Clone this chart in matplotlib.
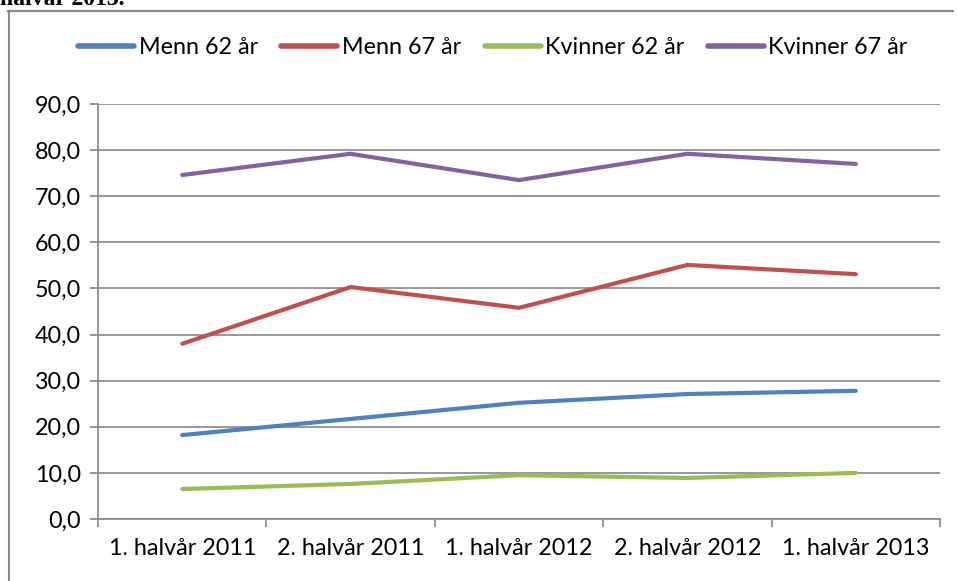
import matplotlib.pyplot as plt
from matplotlib.lines import Line2D

# Data
periods = ["1. halvår 2011", "2. halvår 2011", "1. halvår 2012", "2. halvår 2012", "1. halvår 2013"]
menn_62 = [18.2, 21.7, 25.2, 27.1, 27.8]
menn_67 = [38.0, 50.3, 45.8, 55.1, 53.1]
kvinner_62 = [6.5, 7.6, 9.5, 8.9, 10.0]
kvinner_67 = [74.6, 79.2, 73.5, 79.2, 77.0]

series = [
    ("Menn 62 år", menn_62, "#4F81BD"),
    ("Menn 67 år", menn_67, "#C0504D"),
    ("Kvinner 62 år", kvinner_62, "#9BBB59"),
    ("Kvinner 67 år", kvinner_67, "#8064A2"),
]

plt.rcParams["font.family"] = ["Lato", "DejaVu Sans"]
FS = 16.8

W, H = 957, 581
fig = plt.figure(figsize=(W / 100, H / 100), dpi=100)
ax = fig.add_axes([98 / W, (H - 519) / H, (940 - 98) / W, (519 - 104) / H])

x = list(range(len(periods)))
for label, vals, color in series:
    ax.plot(x, vals, color=color, lw=3.0, label=label, solid_capstyle="round")

ax.set_xlim(-0.5, len(periods) - 0.5)
ax.set_ylim(0, 90)
ax.set_yticks(range(0, 91, 10))
ax.set_yticklabels([f"{v},0" for v in range(0, 91, 10)], fontsize=FS)
ax.set_xticks(x)
ax.set_xticklabels(periods, fontsize=FS)
ax.set_xticks([i - 0.5 for i in range(len(periods) + 1)], minor=True)
ax.tick_params(axis="x", which="major", length=0, pad=14)
ax.tick_params(axis="x", which="minor", length=6, color="#868686", width=1.2)
ax.tick_params(axis="y", length=6, color="#868686", width=1.2, pad=6)
ax.grid(axis="y", color="#868686", lw=1.2)
ax.set_axisbelow(True)
for s in ["top", "right"]:
    ax.spines[s].set_visible(False)
for s in ["left", "bottom"]:
    ax.spines[s].set_color("#868686")
    ax.spines[s].set_linewidth(1.2)

handles = [Line2D([], [], color=c, lw=4, solid_capstyle="round") for _, _, c in series]
fig.legend(handles, [l for l, _, _ in series], loc="center", bbox_to_anchor=(493 / W, 1 - 48 / H),
           ncol=4, frameon=False, fontsize=FS, handlelength=2.4, handletextpad=0.2,
           columnspacing=1.0)

# outer frame
fig.add_artist(Line2D([8 / W, 953 / W], [1 - 11 / H, 1 - 11 / H], color="#888888", lw=1.5))
fig.add_artist(Line2D([9 / W, 9 / W], [0, 1 - 11 / H], color="#888888", lw=1.5))

# cut-off caption text above the chart (only its lower part is visible, as in the source)
fig.text(0 / W, 1 - 5 / H, "halvår 2013.", family=["Liberation Serif", "DejaVu Serif"],
         fontweight="bold", fontsize=17, va="baseline", ha="left")

fig.savefig("out.png", dpi=100)
